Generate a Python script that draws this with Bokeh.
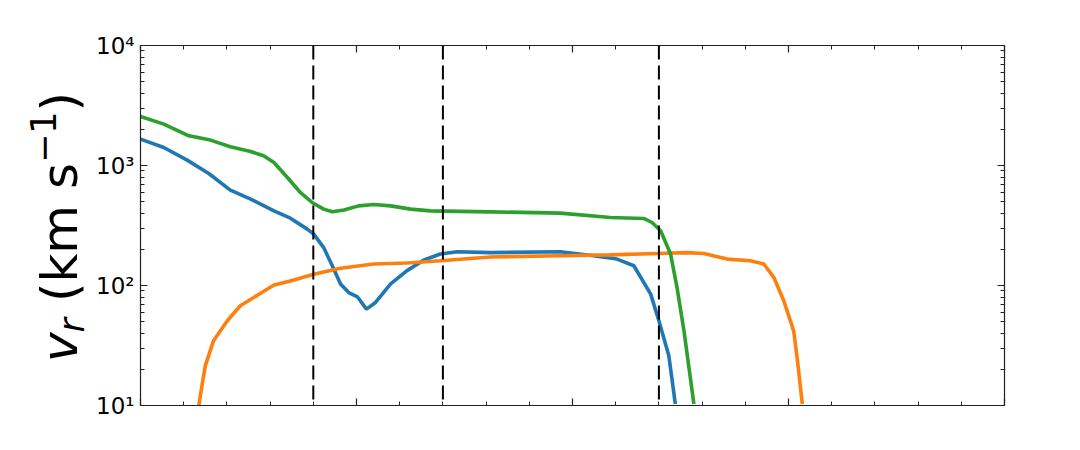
from bokeh.plotting import figure
from bokeh.models import (Range1d, FixedTicker, LinearAxis, LogAxis, Span, Div)
from bokeh.layouts import row
from bokeh.embed import file_html
from bokeh.resources import INLINE

# ---- data ----
x_blue = [0.0, 0.54, 1.08, 1.58, 2.08, 2.55, 3.09, 3.47, 3.86, 4.01, 4.24, 4.44, 4.63,
          4.82, 5.02, 5.23, 5.44, 5.79, 6.17, 6.56, 6.94, 7.33, 8.10, 9.72, 10.49,
          11.03, 11.42, 11.81, 12.0, 12.23, 12.38]
v_blue = [1660, 1413, 1109, 858, 624, 525, 419, 364, 295, 268, 207, 146, 103,
          87.4, 80.5, 63.6, 72.2, 103, 133, 163, 183, 191, 188, 191, 177,
          166, 146, 84.7, 50.8, 26, 10.3]

x_orange = [1.35, 1.44, 1.50, 1.69, 2.01, 2.31, 2.62, 3.09, 3.47, 4.01, 4.63, 5.40,
            6.17, 6.94, 8.10, 9.72, 10.88, 11.96, 12.66, 13.04, 13.58, 14.12, 14.43,
            14.66, 14.89, 15.12, 15.20, 15.32]
v_orange = [10, 16, 21.4, 34.7, 50.8, 67.8, 79.4, 101, 109, 124, 139, 151,
            154, 161, 173, 177, 180, 185, 188, 185, 166, 161, 151,
            117, 74.6, 41.9, 25, 10.3]

x_green = [0.0, 0.54, 1.12, 1.62, 2.08, 2.55, 2.85, 3.09, 3.40, 3.70, 3.97, 4.24,
           4.44, 4.71, 5.05, 5.40, 5.79, 6.25, 6.71, 8.10, 9.72, 10.88, 11.65,
           11.84, 12.04, 12.27, 12.42, 12.58, 12.81]
v_green = [2560, 2213, 1768, 1628, 1432, 1309, 1205, 1059, 794, 596, 492, 433,
           411, 425, 461, 473, 461, 433, 419, 411, 401, 369, 362,
           335, 286, 183, 96, 42, 10.3]

vlines = [4.0, 7.0, 12.0]

x_major = [0, 5, 10, 15, 20]
x_minor = list(range(0, 21))
y_major = [10, 100, 1000, 10000]
y_minor = [m * 10 ** k for k in range(1, 4) for m in range(2, 10)]
y_labels = {10: "10¹", 100: "10²", 1000: "10³", 10000: "10⁴"}

BLUE, ORANGE, GREEN = "#1f77b4", "#ff7f0e", "#2ca02c"
AX = "#222222"

DIV_W = 88
p = figure(width=1080 - DIV_W, height=450, frame_width=864, frame_height=360,
           x_range=Range1d(0, 20), y_range=Range1d(10, 10000), y_axis_type="log",
           output_backend="svg", toolbar_location=None,
           min_border_left=140 - DIV_W, min_border_right=76, min_border_top=45, min_border_bottom=45)
p.background_fill_color = "white"
p.border_fill_color = "white"
p.outline_line_color = None
p.grid.visible = False

p.line(x_blue, v_blue, line_color=BLUE, line_width=3.6)
p.line(x_orange, v_orange, line_color=ORANGE, line_width=3.6)
p.line(x_green, v_green, line_color=GREEN, line_width=3.6)

for xv in vlines:
    p.add_layout(Span(location=xv, dimension="height", line_color="black",
                      line_width=2, line_dash="14 6"))

def style_axis(ax, ticker, major_in, show_labels):
    ax.ticker = ticker
    ax.axis_line_color = AX
    ax.axis_line_width = 1.2
    ax.major_tick_line_color = AX
    ax.minor_tick_line_color = AX
    ax.major_tick_line_width = 1.2
    ax.minor_tick_line_width = 1.0
    ax.major_tick_in = major_in
    ax.major_tick_out = 0
    ax.minor_tick_in = 4
    ax.minor_tick_out = 0
    if not show_labels:
        ax.major_label_text_font_size = "1px"
        ax.major_label_standoff = 0

style_axis(p.xaxis[0], FixedTicker(ticks=x_major, minor_ticks=x_minor), 7, False)
p.xaxis[0].major_label_overrides = {v: "" for v in x_major}

ya = p.yaxis[0]
style_axis(ya, FixedTicker(ticks=y_major, minor_ticks=y_minor), 7, True)
ya.major_label_overrides = y_labels
ya.major_label_text_font = "DejaVu Sans"
ya.major_label_text_font_size = "23px"
ya.major_label_text_color = "black"
ya.major_label_standoff = 6

top = LinearAxis()
style_axis(top, FixedTicker(ticks=x_major, minor_ticks=x_minor), 7, False)
top.major_label_overrides = {v: "" for v in x_major}
p.add_layout(top, "above")

right = LogAxis()
style_axis(right, FixedTicker(ticks=y_major, minor_ticks=y_minor), 7, False)
right.major_label_overrides = {v: "" for v in y_major}
p.add_layout(right, "right")

# ---- rotated y-axis title:  v_r (km s^-1) ----
title_html = (
    '<div style="position:absolute; left:31px; top:362px; transform:rotate(-90deg); '
    'transform-origin:0 0; white-space:nowrap; font-family:\'DejaVu Sans\'; '
    'font-size:50px; line-height:normal; color:black;">'
    '<span style="font-style:italic">v</span>'
    '<span style="font-style:italic; font-size:35px; position:relative; top:7px">r</span>'
    '&nbsp;(km s'
    '<span style="font-size:35px; position:relative; top:-21px">\u22121</span>'
    ')</div>'
)
ylabel = Div(text=title_html, width=DIV_W, height=450, margin=0,
             styles={"overflow": "visible", "position": "relative"})

layout = row(ylabel, p, spacing=0)
open("out.html", "w").write(file_html(layout, INLINE))
